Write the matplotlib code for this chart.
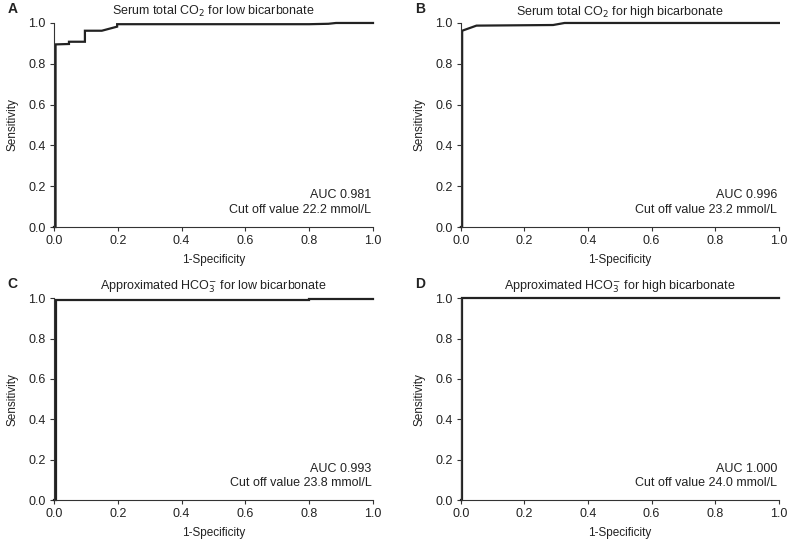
import matplotlib
matplotlib.use("Agg")
import matplotlib.pyplot as plt

plt.rcParams["font.family"] = ["Liberation Sans", "DejaVu Sans"]

# ROC curve points (1-specificity, sensitivity)
FPR_A = [0.0, 0.005, 0.005, 0.047, 0.047, 0.097, 0.097, 0.15, 0.198, 0.198, 0.80, 0.86, 0.884, 1.0]
TPR_A = [0.0, 0.0, 0.895, 0.897, 0.908, 0.908, 0.962, 0.962, 0.982, 0.994, 0.994, 0.996, 1.0, 1.0]

FPR_B = [0.0, 0.004, 0.004, 0.049, 0.29, 0.326, 1.0]
TPR_B = [0.0, 0.0, 0.962, 0.987, 0.99, 1.0, 1.0]

FPR_C = [0.0, 0.005, 0.005, 0.80, 0.80, 1.0]
TPR_C = [0.0, 0.0, 0.993, 0.993, 0.998, 0.998]

FPR_D = [0.0, 0.003, 0.003, 1.0]
TPR_D = [0.0, 0.0, 1.0, 1.0]

LETTERS = ["A", "B", "C", "D"]
TITLES = [
    r"Serum total CO$_2$ for low bicarbonate",
    r"Serum total CO$_2$ for high bicarbonate",
    r"Approximated HCO$_3^{-}$ for low bicarbonate",
    r"Approximated HCO$_3^{-}$ for high bicarbonate",
]
AUCS = ["0.981", "0.996", "0.993", "1.000"]
CUTOFFS = ["22.2", "23.2", "23.8", "24.0"]

CURVES = [(FPR_A, TPR_A), (FPR_B, TPR_B), (FPR_C, TPR_C), (FPR_D, TPR_D)]
POSITIONS = [
    [0.0678, 0.585, 0.4008, 0.373],
    [0.579, 0.585, 0.3995, 0.373],
    [0.0678, 0.0859, 0.4008, 0.369],
    [0.579, 0.0859, 0.3995, 0.369],
]

fig = plt.figure(figsize=(7.96, 5.47), dpi=100)

for i in range(4):
    ax = fig.add_axes(POSITIONS[i])
    fpr, tpr = CURVES[i]
    ax.plot(fpr, tpr, color="#222222", linewidth=1.6, solid_joinstyle="miter", clip_on=False)
    ax.set_xlim(0, 1)
    ax.set_ylim(0, 1)
    ax.set_xticks([0, 0.2, 0.4, 0.6, 0.8, 1.0])
    ax.set_yticks([0, 0.2, 0.4, 0.6, 0.8, 1.0])
    ax.set_xticklabels(["0.0", "0.2", "0.4", "0.6", "0.8", "1.0"])
    ax.set_yticklabels(["0.0", "0.2", "0.4", "0.6", "0.8", "1.0"])
    ax.spines["top"].set_visible(False)
    ax.spines["right"].set_visible(False)
    for side in ("left", "bottom"):
        ax.spines[side].set_color("#333333")
        ax.spines[side].set_linewidth(0.8)
    ax.tick_params(direction="out", length=3, width=0.8, color="#333333",
                   labelsize=9, labelcolor="#222222", pad=3)
    ax.set_xlabel("1-Specificity", fontsize=8.5, color="#222222", labelpad=5)
    ax.set_ylabel("Sensitivity", fontsize=8.5, color="#222222", labelpad=7)
    ax.set_title(TITLES[i], fontsize=9, color="#222222", pad=6)
    ax.text(0.995, 0.155, "AUC " + AUCS[i], transform=ax.transAxes,
            ha="right", va="center", fontsize=9, color="#222222")
    ax.text(0.995, 0.085, "Cut off value " + CUTOFFS[i] + " mmol/L", transform=ax.transAxes,
            ha="right", va="center", fontsize=9, color="#222222")
    bbox = POSITIONS[i]
    fig.text(bbox[0] - 0.058, bbox[1] + bbox[3] + 0.025, LETTERS[i],
             fontsize=10, fontweight="bold", color="#222222", ha="left", va="center")

fig.savefig("out.png", dpi=100)
